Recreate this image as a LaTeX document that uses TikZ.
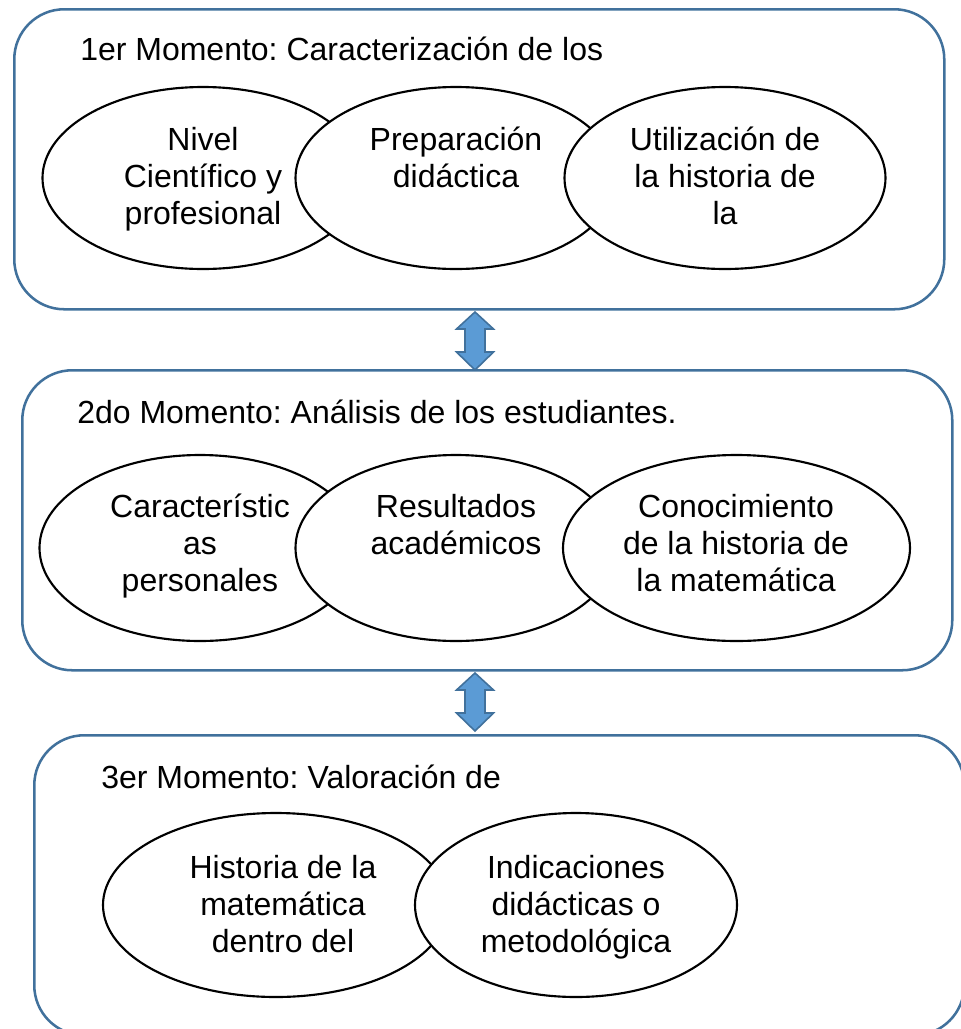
\documentclass[tikz,border=0pt]{standalone}
\usepackage{fontspec}
\setmainfont{Liberation Sans}
\usetikzlibrary{shapes.geometric}
\definecolor{boxblue}{HTML}{41719C}
\definecolor{arrowfill}{HTML}{5B9BD5}
\newcommand\lns[1]{\begin{tabular}[t]{@{}c@{}}#1\end{tabular}}
\frenchspacing
\begin{document}
\begin{tikzpicture}[x=0.75pt,y=-0.75pt,
  stage/.style={draw=boxblue, line width=1.9pt, rounded corners=37.5pt, minimum width=697.5pt, minimum height=225pt, inner sep=0pt, anchor=north west},
  ov/.style={ellipse, draw=black, fill=white, line width=1.6pt, inner sep=0pt},
  lbl/.style={anchor=base, inner sep=0pt, font=\fontsize{24}{28.1}\selectfont},
  ttl/.style={anchor=base west, inner sep=0pt, font=\fontsize{24}{28.1}\selectfont},
  dbl/.style={draw=boxblue, fill=arrowfill, line width=1.2pt, line join=miter}
]
\useasboundingbox (0,0) rectangle (961,1029);
\clip (0,0) rectangle (961,1029);

% stage boxes
\node[stage] (b1) at (13,8) {};
\node[stage] (b2) at (21,369) {};
\node[stage] (b3) at (33,734) {};

% double arrows
\coordinate (j1) at (475,341);
\coordinate (j2) at (475,702);
\foreach \j in {j1,j2}{
  \filldraw[dbl, shift={(\j)}] (0,-29) -- (18.5,-12) -- (10,-12) -- (10,11) -- (18.5,11) -- (0,29)
    -- (-18.5,11) -- (-10,11) -- (-10,-12) -- (-18.5,-12) -- cycle;
}

% titles
\node[ttl] (t1) at (80,60) {1er Momento: Caracterización de los};
\node[ttl] (t2) at (77,423) {2do Momento: Análisis de los estudiantes.};
\node[ttl] (t3) at (101,788) {3er Momento: Valoración de};

% row 1
\node[ov, minimum width=240.75pt, minimum height=136.5pt] (e11) at (203,178) {};
\node[ov, minimum width=240.75pt, minimum height=136.5pt] (e12) at (456,178) {};
\node[ov, minimum width=240.75pt, minimum height=136.5pt] (e13) at (725,178) {};
\node[lbl] (l11) at (203,150) {\lns{Nivel\\Científico y\\profesional}};
\node[lbl] (l12) at (456,150) {\lns{Preparación\\didáctica}};
\node[lbl] (l13) at (725,150) {\lns{Utilización de\\la historia de\\la}};

% row 2
\node[ov, minimum width=240.75pt, minimum height=139.5pt] (e21) at (200,548) {};
\node[ov, minimum width=240.75pt, minimum height=139.5pt] (e22) at (456,548) {};
\node[ov, minimum width=260.25pt, minimum height=139.5pt] (e23) at (736.5,548) {};
\node[lbl] (l21) at (200,517) {\lns{Característic\\as\\personales}};
\node[lbl] (l22) at (456,517) {\lns{Resultados\\académicos}};
\node[lbl] (l23) at (736,517) {\lns{Conocimiento\\de la historia de\\la matemática}};

% row 3
\node[ov, minimum width=259.5pt, minimum height=138pt] (e31) at (276,905) {};
\node[ov, minimum width=241.5pt, minimum height=138pt] (e32) at (576,905) {};
\node[lbl] (l31) at (283,878) {\lns{Historia de la\\matemática\\dentro del}};
\node[lbl] (l32) at (576,878) {\lns{Indicaciones\\didácticas o\\metodológica}};
\end{tikzpicture}
\end{document}
